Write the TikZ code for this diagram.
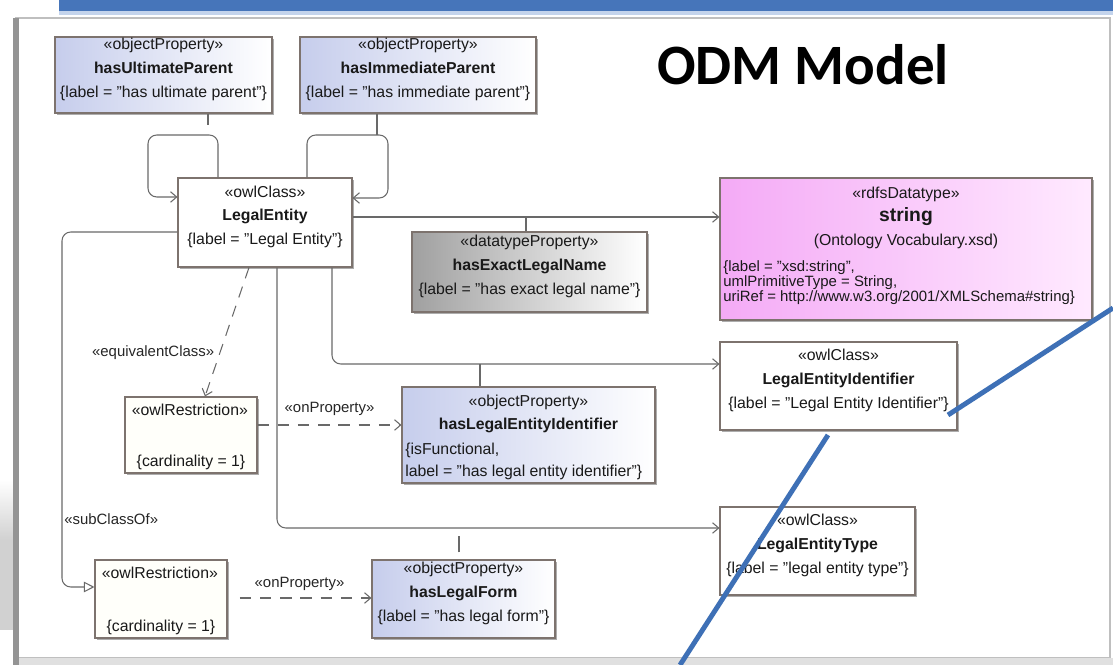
\documentclass[tikz,border=0pt]{standalone}
\usepackage{fontspec}
\setmainfont{Liberation Sans}
\newfontfamily\titlefont{Carlito}
\usetikzlibrary{arrows.meta, shadows, fit}
\definecolor{band}{RGB}{70,117,186}
\definecolor{bandlight}{RGB}{196,212,236}
\definecolor{boxline}{RGB}{125,115,110}
\definecolor{connline}{RGB}{105,105,105}
\definecolor{opblue}{RGB}{198,205,236}
\definecolor{dtgray}{RGB}{160,160,160}
\definecolor{rdfspink}{RGB}{244,170,246}
\definecolor{rdfslight}{RGB}{255,234,255}
\definecolor{slideblue}{RGB}{62,112,182}
\colorlet{restrfill}{yellow!2}

\begin{document}
\begin{tikzpicture}[x=0.02cm, y=-0.02cm,
    box/.style={draw=boxline, line width=0.6pt, inner sep=0pt, align=center,
        font=\fontsize{9}{13.5}\selectfont, text=black!90,
        drop shadow={shadow xshift=1.4pt, shadow yshift=-1.4pt, fill=black!40, opacity=0.8}},
    classbox/.style={box, fill=white},
    opbox/.style={box, left color=opblue, right color=white},
    dtbox/.style={box, left color=dtgray, right color=white},
    rdfsbox/.style={box, left color=rdfspink, right color=rdfslight},
    restrbox/.style={box, fill=restrfill},
    intext/.style={font=\fontsize{9}{13.5}\selectfont, text=black!90, inner sep=2pt},
    conn/.style={draw=connline, line width=0.6pt, rounded corners=5pt},
    arr/.style={conn, -{Straight Barb[length=3.5pt, width=6pt]}},
    dasharr/.style={arr, dash pattern=on 6.5pt off 5pt},
    gen/.style={conn, -{Triangle[open, length=6pt, width=6pt, fill=white]}},
    tag/.style={font=\fontsize{8.5}{10}\selectfont, text=black!85, inner sep=1pt}
]
\useasboundingbox (0,0) rectangle (1113,665);

% slide frame
\fill[white] (0,0) rectangle (1113,665);
\fill[band] (59,0) rectangle (1113,11);
\fill[bandlight] (59,11) rectangle (1113,15);
\fill[top color=white, bottom color=black!18] (0,480) rectangle (13,540);
\fill[black!18] (0,540) rectangle (13,630);
\draw[black!25, line width=0.8pt, fill=white] (16,18) rectangle (1110,658);
\fill[black!12] (13,658) rectangle (1113,665);
\fill[black!42] (13,18) rectangle (19,665);

\node[font=\titlefont\bfseries\fontsize{32.5}{36}\selectfont, anchor=base west, inner sep=0pt] (title) at (657,85) {ODM Model};

% classes and properties
\node[opbox, fit={(55,37) (272,113)}] (hup) {«objectProperty»\\\textbf{hasUltimateParent}\\\{label = "has ultimate parent"\}};
\node[opbox, fit={(300,37) (536,113)}] (hip) {«objectProperty»\\\textbf{hasImmediateParent}\\\{label = "has immediate parent"\}};
\node[classbox, fit={(178,178) (352,267)}] (le) {«owlClass»\\\textbf{LegalEntity}\\\{label = "Legal Entity"\}};
\node[dtbox, fit={(412,232) (647,312)}] (hel) {«datatypeProperty»\\\textbf{hasExactLegalName}\\\{label = "has exact legal name"\}};
\node[rdfsbox, fit={(720,178) (1092,320)}] (str) {};
\node[intext, align=center, anchor=north, yshift=-3pt] at (str.north) {«rdfsDatatype»\\{\fontsize{11}{13.5}\selectfont\textbf{string}}\\(Ontology Vocabulary.xsd)};
\node[intext, align=left, anchor=south west, yshift=7pt, font=\fontsize{8.5}{8.5}\selectfont] at (str.south west) {\{label = "xsd:string",\\umlPrimitiveType = String,\\uriRef = http://www.w3.org/2001/XMLSchema\#string\}};
\node[classbox, fit={(720,342) (957,430)}] (lei) {«owlClass»\\\textbf{LegalEntityIdentifier}\\\{label = "Legal Entity Identifier"\}};
\node[restrbox, fit={(125,397) (257,473)}] (r1) {};
\node[intext, anchor=north west, inner sep=4pt] at (r1.north west) {«owlRestriction»};
\node[intext, anchor=south] at (r1.south) {\{cardinality = 1\}};
\node[opbox, fit={(402,387) (655,483)}] (hlei) {};
\node[intext, align=center, anchor=north, yshift=-2.5pt] at (hlei.north) {«objectProperty»\\\textbf{hasLegalEntityIdentifier}};
\node[intext, align=left, anchor=south west, font=\fontsize{9}{12.5}\selectfont] at (hlei.south west) {\{isFunctional,\\label = "has legal entity identifier"\}};
\node[classbox, fit={(720,507) (915,595)}] (let) {«owlClass»\\\textbf{LegalEntityType}\\\{label = "legal entity type"\}};
\node[restrbox, fit={(95,560) (227,638)}] (r2) {};
\node[intext, anchor=north west, inner sep=4pt] at (r2.north west) {«owlRestriction»};
\node[intext, anchor=south] at (r2.south) {\{cardinality = 1\}};
\node[opbox, fit={(372,560) (555,638)}] (hlf) {«objectProperty»\\\textbf{hasLegalForm}\\\{label = "has legal form"\}};

% associations
\draw[arr] (le.north -| 218,0) -- (218,135) -- (148,135) -- (148,197) -- (le.west |- 0,197);
\draw[arr] (le.north -| 307,0) -- (307,135) -- (388,135) -- (388,198) -- (le.east |- 0,198);
\draw[arr] (le.east |- 0,217) -- (str.west |- 0,217);
\draw[arr] (le.south -| 332,0) -- (332,364) -- (lei.west |- 0,364);
\draw[arr] (le.south -| 277,0) -- (277,528) -- (let.west |- 0,528);
\draw[gen] (le.west |- 0,232) -- (62,232) -- (62,587) node[tag, pos=.81, anchor=west] {«subClassOf»} -- (r2.west |- 0,587);
\draw[dasharr] (le.south -| 249,0) -- node[tag, pos=.66, anchor=east, inner sep=3pt] {«equivalentClass»} (r1.north -| 205,0);
\draw[dasharr] (r1.east |- 0,425) -- node[tag, above=4pt] {«onProperty»} (hlei.west |- 0,425);
\draw[dasharr, shorten <=7pt] (r2.east |- 0,598) -- node[tag, above=3pt] {«onProperty»} (hlf.west |- 0,598);

% property ticks
\draw[conn] (hup.south -| 208,0) -- (208,125);
\draw[conn] (hip.south -| 377,0) -- (377,135);
\draw[conn] (hel.north -| 526,0) -- (526,217);
\draw[conn] (hlei.north -| 480,0) -- (480,364);
\draw[conn] (hlf.north -| 459,0) ++(0,-7) -- ++(0,-16);

% slide pointer lines
\coordinate (b1) at (948,415);
\coordinate (b2) at (1113,308);
\coordinate (b3) at (828,435);
\coordinate (b4) at (680,665);
\draw[slideblue, line width=2.8pt] (b1) -- (b2);
\draw[slideblue, line width=2.8pt] (b3) -- (b4);

\end{tikzpicture}
\end{document}
